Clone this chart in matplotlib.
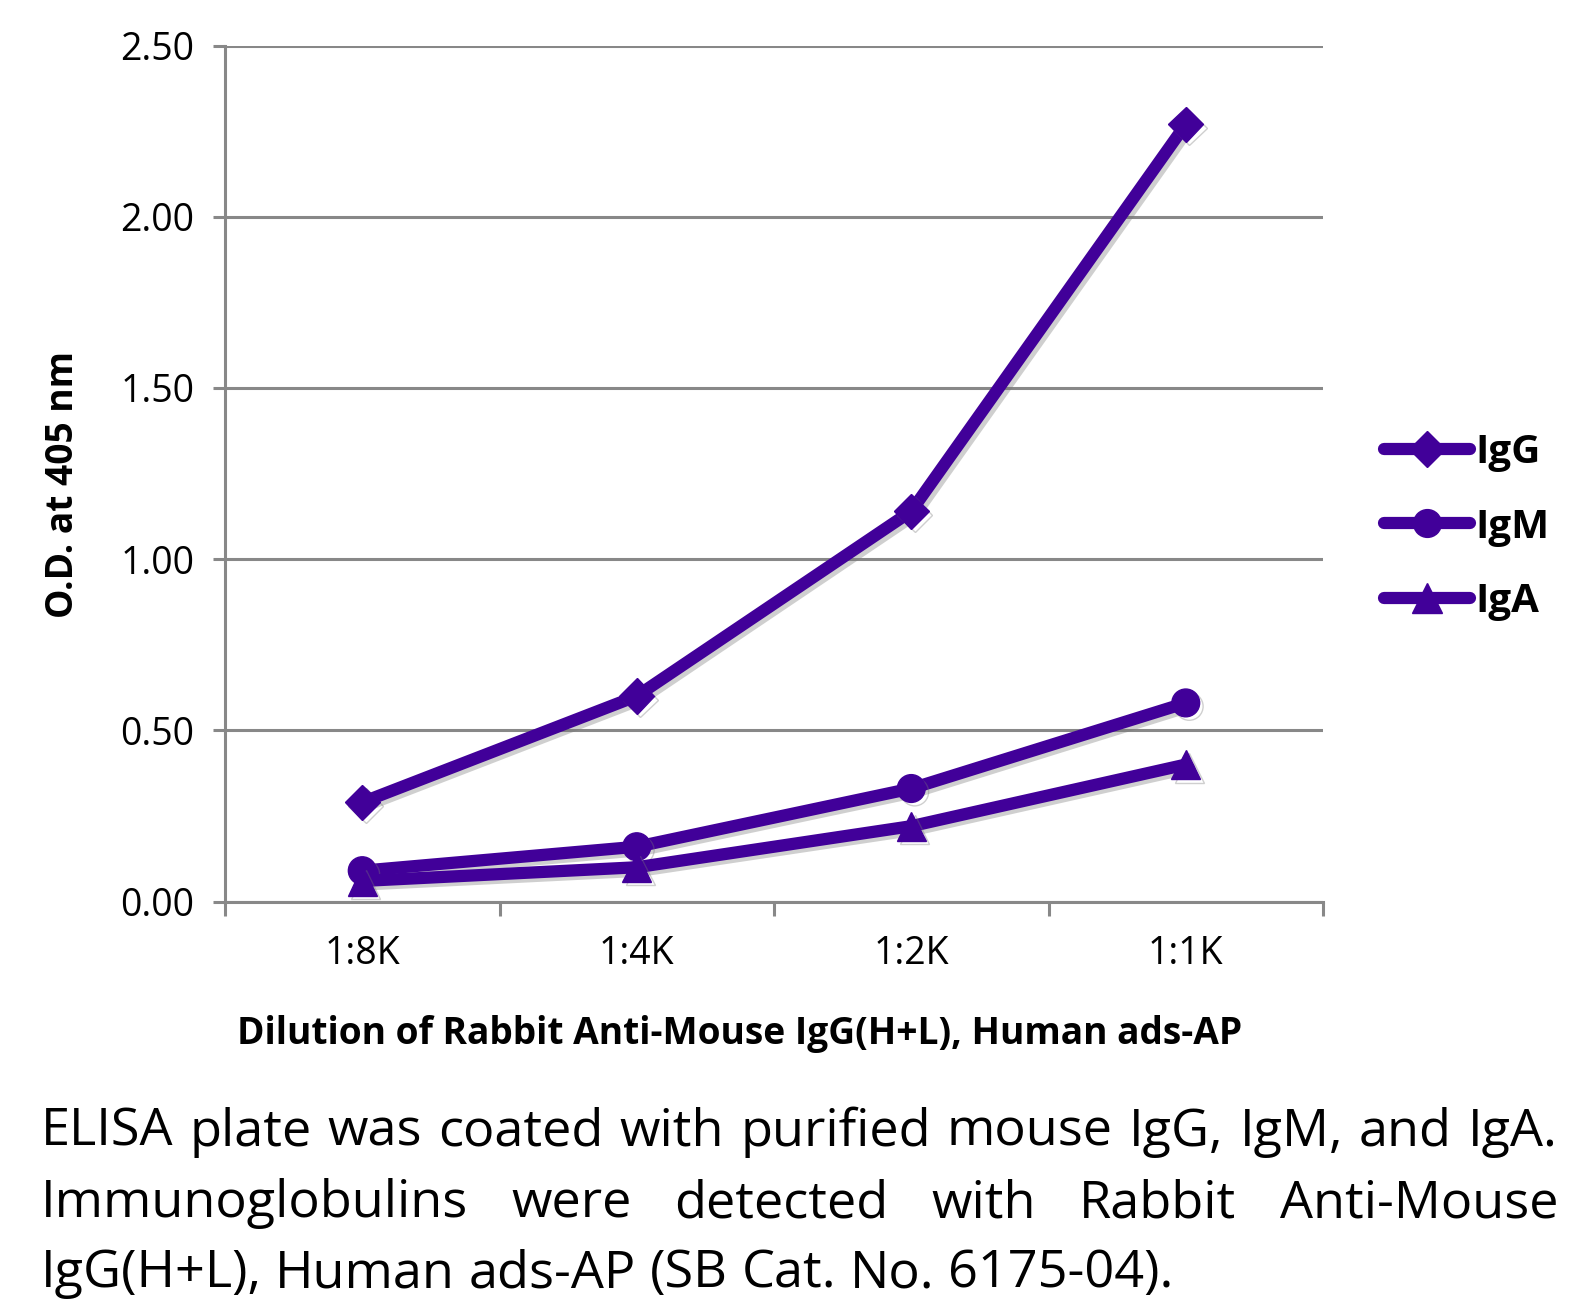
import matplotlib
matplotlib.use("Agg")
import matplotlib.pyplot as plt
import matplotlib.patheffects as pe
from matplotlib.ticker import FixedLocator, FixedFormatter

categories = ["1:8K", "1:4K", "1:2K", "1:1K"]
igg = [0.29, 0.60, 1.14, 2.27]
igm = [0.09, 0.16, 0.33, 0.58]
iga = [0.06, 0.10, 0.22, 0.40]
series_names = ["IgG", "IgM", "IgA"]
yticks = [0.0, 0.5, 1.0, 1.5, 2.0, 2.5]
ytick_labels = ["0.00", "0.50", "1.00", "1.50", "2.00", "2.50"]
xlabel = "Dilution of Rabbit Anti-Mouse IgG(H+L), Human ads-AP"
ylabel = "O.D. at 405 nm"
caption = [
    "ELISA plate was coated with purified mouse IgG, IgM, and IgA.",
    "Immunoglobulins were detected with Rabbit Anti-Mouse",
    "IgG(H+L), Human ads-AP (SB Cat. No. 6175-04).",
]

W, H = 1590, 1306
DPI = 100
plt.rcParams["font.family"] = ["Open Sans", "DejaVu Sans"]
fig = plt.figure(figsize=(W / DPI, H / DPI), dpi=DPI)
ax = fig.add_axes([225 / W, 1 - 901.5 / H, 1098 / W, (901.5 - 45.6) / H])

color = "#410099"
gray = "#888888"
shadow = [pe.SimpleLineShadow(offset=(2.5, -2.5), shadow_color="#777777", alpha=0.35), pe.Normal()]
x = list(range(len(categories)))
markers = ["D", "o", "^"]
msizes = [18, 20, 21]
for vals, name, m, ms in zip([igg, igm, iga], series_names, markers, msizes):
    ax.plot(x, vals, color=color, lw=8.8, marker=m, ms=ms, mec=color, mfc=color,
            label=name, solid_capstyle="round", solid_joinstyle="round",
            path_effects=shadow, zorder=3, clip_on=False)

ax.set_xlim(-0.5, 3.5)
ax.set_ylim(0, 2.5)
ax.yaxis.set_major_locator(FixedLocator(yticks))
ax.yaxis.set_major_formatter(FixedFormatter(ytick_labels))
ax.yaxis.grid(True, color=gray, lw=2.2, zorder=0)
ax.set_axisbelow(True)
ax.set_xticks(x)
ax.set_xticklabels(categories)
ax.set_xticks([i - 0.5 for i in range(len(categories) + 1)], minor=True)
ax.tick_params(axis="x", which="major", length=0, pad=24, labelsize=27)
ax.tick_params(axis="x", which="minor", length=10, width=2.2, color=gray)
ax.tick_params(axis="y", which="major", length=9, width=2.2, color=gray, pad=13, labelsize=27)
for s in ["top", "right"]:
    ax.spines[s].set_visible(False)
for s in ["left", "bottom"]:
    ax.spines[s].set_color(gray)
    ax.spines[s].set_linewidth(2.2)

lfs = 29
ax.legend(handles=[plt.Line2D([], [], color=color, lw=8.8, marker=m, ms=ms,
                              solid_capstyle="round") for m, ms in zip(markers, msizes)],
          labels=series_names, loc="center left",
          bbox_to_anchor=(1384 / W, 1 - 527 / H), bbox_transform=fig.transFigure,
          frameon=False, handlelength=2.13, handletextpad=0.15, labelspacing=0.89,
          prop={"weight": "bold", "size": lfs}, borderaxespad=0, borderpad=0)

fig.canvas.draw()
renderer = fig.canvas.get_renderer()

t = fig.text(740 / W, 1 - 1034 / H, xlabel, ha="center", va="center", fontsize=24, fontweight="bold")
bb = t.get_window_extent(renderer)
t.set_fontsize(24 * 1009 / bb.width)

t2 = fig.text(63 / W, 1 - 484 / H, ylabel, ha="center", va="center", rotation=90,
              fontsize=24, fontweight="bold")
bb = t2.get_window_extent(renderer)
t2.set_fontsize(24 * 268 / bb.height)

# caption, justified lines
left, right = 40.6, 1558
baselines = [1146, 1217, 1287]
probe = fig.text(0, 0, caption[0], fontsize=10)
pw = probe.get_window_extent(renderer).width
probe.remove()
fs = 10 * (right - left) / pw * 0.985

def word_width(w):
    tt = fig.text(0, 0, w, fontsize=fs)
    ww = tt.get_window_extent(renderer).width
    tt.remove()
    return ww

sp = word_width("a b") - word_width("ab")
for i, line in enumerate(caption):
    words = line.split(" ")
    widths = [word_width(w) for w in words]
    if i < len(caption) - 1:
        gap = (right - left - sum(widths)) / (len(words) - 1)
    else:
        gap = sp
    xx = left
    for w, ww in zip(words, widths):
        fig.text(xx / W, 1 - baselines[i] / H, w, fontsize=fs, ha="left", va="baseline")
        xx += ww + gap

fig.savefig("out.png", dpi=DPI)
